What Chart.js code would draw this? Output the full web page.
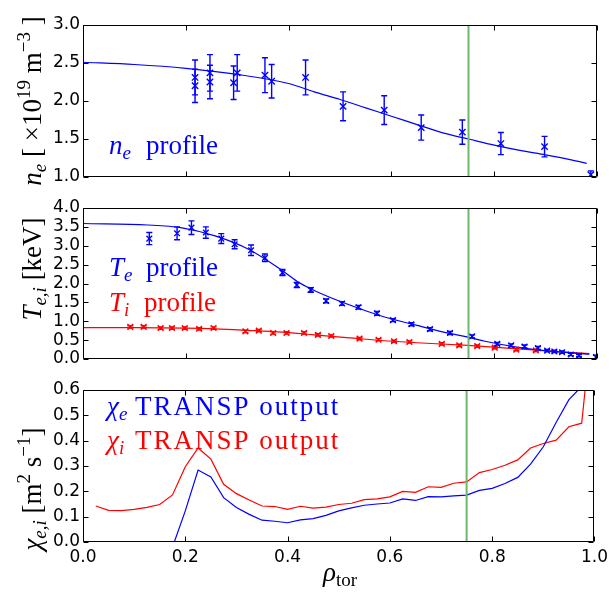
<!DOCTYPE html>
<html><head><meta charset="utf-8">
<script src="https://cdn.jsdelivr.net/npm/chart.js@4/dist/chart.umd.min.js"></script>
<style>
html,body{margin:0;padding:0;background:#fff;}
#wrap{position:relative;width:613px;height:601px;overflow:hidden;}
.layer{position:absolute;left:0;top:0;width:613px;height:601px;}
</style></head><body>
<div id="wrap">
<div class="layer"><canvas id="c1" width="613" height="601"></canvas></div>
<div class="layer"><canvas id="c2" width="613" height="601"></canvas></div>
<div class="layer"><canvas id="c3" width="613" height="601"></canvas></div>
</div>
<script>
// ---------- data ----------
const xTicks = [0.0, 0.2, 0.4, 0.6, 0.8, 1.0];
const neTicks = [1.0, 1.5, 2.0, 2.5, 3.0];
const tTicks = [0.0, 0.5, 1.0, 1.5, 2.0, 2.5, 3.0, 3.5, 4.0];
const chiTicks = [0.0, 0.1, 0.2, 0.3, 0.4, 0.5, 0.6];
const separatrixX = 0.75;

// electron density (10^19 m^-3)
const neX   = [0.218,0.218,0.247,0.247,0.293,0.300,0.354,0.367,0.433,0.506,0.586,0.658,0.738,0.813,0.898,0.988];
const neY   = [2.31, 2.20, 2.37, 2.25, 2.24, 2.37, 2.34, 2.26, 2.31, 1.93, 1.88, 1.65, 1.59, 1.44, 1.40, 1.03];
const neErr = [0.23, 0.22, 0.24, 0.22, 0.22, 0.24, 0.23, 0.22, 0.23, 0.19, 0.19, 0.165,0.16, 0.145,0.135,0.05];
const neFitX = [0,0.1,0.2,0.3,0.4,0.45,0.5,0.55,0.6,0.65,0.7,0.75,0.8,0.85,0.9,0.95,0.98];
const neFitY = [2.51,2.48,2.43,2.35,2.23,2.12,2.02,1.91,1.80,1.69,1.58,1.50,1.42,1.35,1.29,1.225,1.18];

// electron temperature (keV)
const teX   = [0.129,0.183,0.211,0.239,0.269,0.295,0.327,0.354,0.388,0.416,0.443,0.473,0.504,0.536,0.572,0.603,0.639,0.675,0.714,0.757,0.806,0.833,0.859,0.885,0.903,0.917,0.932,0.949,0.965,0.998];
const teY   = [3.19,3.33,3.48,3.35,3.19,3.04,2.88,2.68,2.29,1.96,1.83,1.54,1.47,1.37,1.21,1.03,0.92,0.79,0.69,0.60,0.40,0.36,0.33,0.29,0.22,0.20,0.18,0.12,0.09,0.05];
const teErr = [0.16,0.17,0.18,0.15,0.13,0.12,0.14,0.10,0.08,0.07,0.06,0.05,0.05,0.05,0.05,0.04,0.04,0.04,0.04,0.04,0.04,0.04,0.04,0.04,0.03,0.03,0.03,0.03,0.03,0.05];
const teFitX = [0,0.126,0.19,0.257,0.323,0.388,0.421,0.454,0.519,0.585,0.65,0.716,0.749,0.782,0.847,0.913,0.985];
const teFitY = [3.59,3.55,3.48,3.26,2.90,2.34,2.02,1.79,1.43,1.12,0.89,0.67,0.58,0.47,0.31,0.20,0.13];

// ion temperature (keV)
const tiX   = [0.092,0.118,0.151,0.173,0.198,0.226,0.254,0.316,0.342,0.370,0.396,0.430,0.457,0.483,0.538,0.575,0.605,0.635,0.698,0.732,0.767,0.801,0.843,0.881];
const tiY   = [0.85,0.85,0.82,0.82,0.82,0.80,0.82,0.73,0.75,0.69,0.69,0.69,0.64,0.61,0.54,0.51,0.47,0.45,0.40,0.36,0.34,0.30,0.25,0.23];
const tiErr = [0.03,0.03,0.03,0.03,0.03,0.03,0.03,0.03,0.03,0.03,0.03,0.03,0.03,0.03,0.03,0.03,0.03,0.03,0.03,0.03,0.03,0.03,0.03,0.03];
const tiFitX = [0,0.1,0.2,0.257,0.32,0.388,0.45,0.519,0.58,0.65,0.749,0.847,0.985];
const tiFitY = [0.83,0.83,0.82,0.80,0.76,0.71,0.64,0.56,0.49,0.43,0.36,0.27,0.14];

// TRANSP diffusivities (m^2/s)
const chiX = [0.025,0.05,0.075,0.1,0.125,0.15,0.175,0.2,0.225,0.25,0.275,0.3,0.325,0.35,0.375,0.4,0.425,0.45,0.475,0.5,0.525,0.55,0.575,0.6,0.625,0.65,0.675,0.7,0.725,0.75,0.775,0.8,0.825,0.85,0.875,0.9,0.925,0.95,0.975,1.0];
const chiE = [null,null,null,null,null,null,-0.02,0.123,0.284,0.257,0.175,0.136,0.109,0.086,0.082,0.076,0.087,0.092,0.105,0.123,0.135,0.145,0.150,0.154,0.170,0.164,0.179,0.178,0.182,0.185,0.204,0.212,0.231,0.255,0.307,0.376,0.472,0.562,0.614,null];
const chiI = [0.142,0.125,0.124,0.129,0.137,0.148,0.186,0.297,0.371,0.327,0.228,0.191,0.166,0.142,0.140,0.129,0.141,0.134,0.138,0.148,0.153,0.167,0.170,0.178,0.200,0.196,0.218,0.216,0.232,0.237,0.274,0.286,0.303,0.324,0.371,0.389,0.402,0.455,0.469,0.96];

// ---------- helpers ----------
const BLUE = '#0000ff', RED = '#ff0000', GREEN = 'rgb(110,184,110)';
const TICKFONT = {family: 'DejaVu Sans', size: 17};
const SERIF = '"Liberation Serif", "DejaVu Serif", serif';
const RM = s => s + 'px ' + SERIF;
const IT = s => 'italic ' + s + 'px ' + SERIF;
const BIG = 27, SMALL = 19;
const DECO = {};

function pts(xs, ys){ return xs.map((x,i)=>({x:x, y:ys[i]})).filter(p=>p.y!==null); }

function drawRich(ctx, item){
  ctx.save();
  ctx.translate(item.x, item.y);
  if (item.rot) ctx.rotate(item.rot);
  ctx.fillStyle = item.color || '#000';
  ctx.textBaseline = 'alphabetic';
  ctx.textAlign = 'left';
  const widths = item.parts.map(p => { ctx.font = p.font; ctx.letterSpacing = p.ls || '0px'; return ctx.measureText(p.t).width; });
  const total = widths.reduce((a,b)=>a+b, 0);
  let cx = item.align === 'center' ? -total/2 : 0;
  item.parts.forEach((p,i) => {
    ctx.font = p.font; ctx.letterSpacing = p.ls || '0px';
    if (typeof p.at === 'number') cx = p.at;
    ctx.fillText(p.t, cx, p.dy || 0);
    cx += widths[i];
  });
  ctx.restore();
}

const deco = {
  id: 'deco',
  beforeDatasetsDraw(chart){
    const opts = DECO[chart.canvas.id] || {};
    const {ctx, chartArea: a, scales} = chart;
    ctx.save();
    ctx.beginPath(); ctx.rect(a.left, a.top, a.right - a.left, a.bottom - a.top); ctx.clip();
    (opts.errorbars || []).forEach(set => {
      ctx.strokeStyle = set.color; ctx.lineWidth = set.lw;
      set.x.forEach((xv, i) => {
        const X = scales.x.getPixelForValue(xv);
        const y1 = scales.y.getPixelForValue(set.y[i] - set.err[i]);
        const y2 = scales.y.getPixelForValue(set.y[i] + set.err[i]);
        ctx.beginPath();
        ctx.moveTo(X, y1); ctx.lineTo(X, y2);
        ctx.moveTo(X - set.cap, y1); ctx.lineTo(X + set.cap, y1);
        ctx.moveTo(X - set.cap, y2); ctx.lineTo(X + set.cap, y2);
        ctx.stroke();
      });
    });
    ctx.restore();
  },
  afterDraw(chart){
    const opts = DECO[chart.canvas.id] || {};
    const {ctx, chartArea: a, scales} = chart;
    const L = Math.round(a.left) + 0.5, R = Math.round(a.right) - 0.5;
    const T = Math.round(a.top) + 0.5, B = Math.round(a.bottom) - 0.5;
    ctx.save();
    ctx.strokeStyle = '#000'; ctx.lineWidth = 1;
    ctx.beginPath();
    ctx.rect(L, T, R - L, B - T);
    const tl = 5;
    xTicks.forEach(v => {
      const X = Math.round(scales.x.getPixelForValue(v)) + 0.5;
      ctx.moveTo(X, B); ctx.lineTo(X, B - tl);
      ctx.moveTo(X, T); ctx.lineTo(X, T + tl);
    });
    (opts.yTicks || []).forEach(v => {
      const Y = Math.round(scales.y.getPixelForValue(v)) + 0.5;
      ctx.moveTo(L, Y); ctx.lineTo(L + tl, Y);
      ctx.moveTo(R, Y); ctx.lineTo(R - tl, Y);
    });
    ctx.stroke();
    ctx.restore();
    (opts.texts || []).forEach(t => drawRich(ctx, t));
  }
};

function yScale(min, max, ticks){
  return {
    type: 'linear', min: min, max: max,
    afterBuildTicks: s => { s.ticks = ticks.map(v => ({value: v})); },
    grid: {display: false, drawTicks: false}, border: {display: false},
    ticks: {autoSkip: false, padding: 3, color: '#000', font: TICKFONT, callback: v => Number(v).toFixed(1)},
    afterFit: s => { s.width = 83; }
  };
}
function xScale(show){
  return {
    type: 'linear', min: 0, max: 1, display: show,
    afterBuildTicks: s => { s.ticks = xTicks.map(v => ({value: v})); },
    grid: {display: false, drawTicks: false}, border: {display: false},
    ticks: {autoSkip: false, maxRotation: 0, minRotation: 0, padding: 5, color: '#000', font: TICKFONT, callback: v => Number(v).toFixed(1)},
    afterFit: s => { s.height = show ? 59 : 0; }
  };
}
function vline(ymin, ymax){
  return {data: [{x: separatrixX, y: ymin}, {x: separatrixX, y: ymax}], showLine: true, borderColor: GREEN, borderWidth: 2, pointRadius: 0};
}
function fitLine(xs, ys, color){
  return {data: pts(xs, ys), showLine: true, borderColor: color, borderWidth: 1.2, pointRadius: 0, cubicInterpolationMode: 'monotone'};
}
function markers(xs, ys, color, r){
  return {data: pts(xs, ys), showLine: false, pointStyle: 'crossRot', pointRadius: r, pointBorderWidth: 1.4, borderColor: color, backgroundColor: color};
}
function make(id, padTop, padBottom, showX, yMin, yMax, yTicks, datasets, decoOpts){
  decoOpts.yTicks = yTicks;
  DECO[id] = decoOpts;
  return new Chart(document.getElementById(id), {
    type: 'scatter',
    data: {datasets: datasets},
    options: {
      responsive: false, animation: false, devicePixelRatio: 1, events: [],
      layout: {padding: {top: padTop, bottom: padBottom, left: 0, right: 16}},
      scales: {x: xScale(showX), y: yScale(yMin, yMax, yTicks)},
      plugins: {legend: {display: false}, tooltip: {enabled: false}}
    },
    plugins: [deco]
  });
}

// ---------- panel 1: n_e ----------
make('c1', 25, 424, false, 1.0, 3.0, neTicks, [
  vline(1.0, 3.0),
  markers(neX, neY, BLUE, 4.5),
  fitLine(neFitX, neFitY, BLUE)
], {
  errorbars: [{x: neX, y: neY, err: neErr, color: BLUE, lw: 1.4, cap: 3}],
  texts: [
    {x: 41, y: 101, rot: -Math.PI/2, align: 'center', parts: [
      {t: 'n', font: IT(BIG)}, {t: 'e', font: IT(SMALL), dy: 5},
      {t: ' [ ×10', font: RM(BIG)}, {t: '19', font: RM(SMALL), dy: -11},
      {t: ' m', font: RM(BIG)}, {t: '−3', font: RM(SMALL), dy: -11},
      {t: ' ]', font: RM(BIG)}]},
    {x: 109, y: 154, color: BLUE, parts: [
      {t: 'n', font: IT(BIG)}, {t: 'e', font: IT(SMALL), dy: 5},
      {t: 'profile', font: RM(BIG), at: 37}]}
  ]
});

// ---------- panel 2: T_e, T_i ----------
make('c2', 208, 242, false, 0.0, 4.0, tTicks, [
  vline(0.0, 4.0),
  markers(teX, teY, BLUE, 4),
  markers(tiX, tiY, RED, 4),
  fitLine(teFitX, teFitY, BLUE),
  fitLine(tiFitX, tiFitY, RED)
], {
  errorbars: [
    {x: teX, y: teY, err: teErr, color: BLUE, lw: 1.4, cap: 3},
    {x: tiX, y: tiY, err: tiErr, color: RED, lw: 1.4, cap: 3}
  ],
  texts: [
    {x: 41, y: 269, rot: -Math.PI/2, align: 'center', parts: [
      {t: 'T', font: IT(BIG)}, {t: 'e,i', font: IT(SMALL), dy: 5},
      {t: ' [keV]', font: RM(BIG)}]},
    {x: 109, y: 276, color: BLUE, parts: [
      {t: 'T', font: IT(BIG)}, {t: 'e', font: IT(SMALL), dy: 5},
      {t: 'profile', font: RM(BIG), at: 37}]},
    {x: 109, y: 311, color: RED, parts: [
      {t: 'T', font: IT(BIG)}, {t: 'i', font: IT(SMALL), dy: 5},
      {t: 'profile', font: RM(BIG), at: 35}]}
  ]
});

// ---------- panel 3: chi ----------
make('c3', 390, 0, true, 0.0, 0.6, chiTicks, [
  vline(0.0, 0.6),
  {data: pts(chiX, chiE), showLine: true, borderColor: BLUE, borderWidth: 1.2, pointRadius: 0},
  {data: pts(chiX, chiI), showLine: true, borderColor: RED, borderWidth: 1.2, pointRadius: 0}
], {
  texts: [
    {x: 41, y: 489, rot: -Math.PI/2, align: 'center', parts: [
      {t: 'χ', font: IT(BIG)}, {t: 'e,i', font: IT(SMALL), dy: 5},
      {t: ' [m', font: RM(BIG)}, {t: '2', font: RM(SMALL), dy: -11},
      {t: ' s', font: RM(BIG)}, {t: '−1', font: RM(SMALL), dy: -11},
      {t: ']', font: RM(BIG)}]},
    {x: 107, y: 415, color: BLUE, parts: [
      {t: 'χ', font: IT(BIG)}, {t: 'e', font: IT(SMALL), dy: 5},
      {t: 'TRANSP output', font: RM(BIG), at: 28, ls: '2px'}]},
    {x: 107, y: 449, color: RED, parts: [
      {t: 'χ', font: IT(BIG)}, {t: 'i', font: IT(SMALL), dy: 5},
      {t: 'TRANSP output', font: RM(BIG), at: 28, ls: '2px'}]},
    {x: 340, y: 581, align: 'center', parts: [
      {t: 'ρ', font: IT(BIG)}, {t: 'tor', font: RM(SMALL), dy: 5}]}
  ]
});
</script>
</body></html>
